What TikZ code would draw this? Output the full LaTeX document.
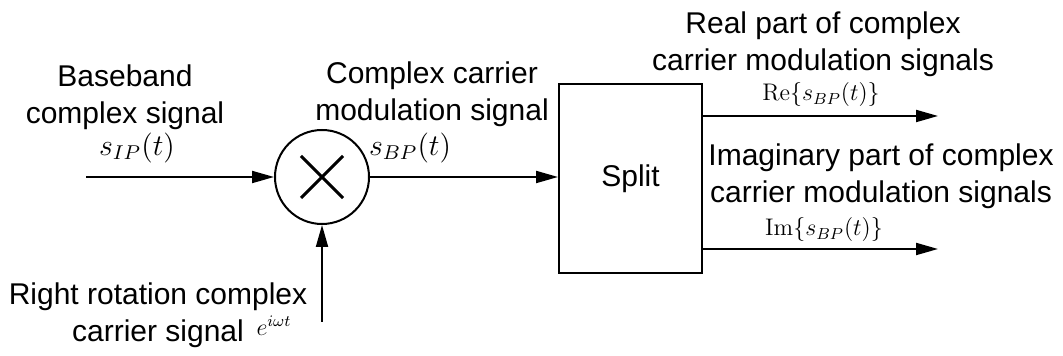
\documentclass[tikz,border=0pt]{standalone}
\usepackage{fix-cm}
\usepackage[no-math]{fontspec}
\setmainfont{Liberation Sans}
\usetikzlibrary{arrows.meta,positioning}

\begin{document}
\begin{tikzpicture}[
  x=0.5pt, y=-0.5pt,
  font=\fontsize{15}{18.5}\selectfont,
  mixer/.style={draw, circle, line width=1pt, minimum size=47pt, inner sep=0pt},
  splitbox/.style={draw, line width=1pt, minimum width=71.5pt, minimum height=94.5pt},
  lbl/.style={align=center, inner sep=0pt},
  mathlbl/.style={inner sep=0pt, font=\fontsize{12}{15}\selectfont, scale=1.25, transform shape},
  partlbl/.style={inner sep=0pt, font=\fontsize{12}{15}\selectfont},
  sig/.style={-{Triangle[length=11pt,width=6pt]}, line width=1pt}
]
\useasboundingbox (0,0) rectangle (1063,356);

\node[mixer] (mix) at (322,177) {};
\draw[line width=1.5pt] (mix.center) ++(-21,-21) -- ++(42,42);
\draw[line width=1.5pt] (mix.center) ++(21,-21) -- ++(-42,42);
\node[splitbox] (split) at (630.5,178.5) {Split};

\coordinate (in) at (86,177);
\coordinate (carrier) at (322,322);
\coordinate (reout) at (938,116);
\coordinate (imout) at (938,249);

% labels
\node[lbl] (bblabel) at (125,97) {Baseband\\complex signal};
\node[mathlbl] (sip) at (137,148) {$s_{IP}(t)$};
\node[lbl] (cmlabel) at (432,94) {Complex carrier\\modulation signal};
\node[mathlbl] (sbp) at (410,148) {$s_{BP}(t)$};
\node[lbl] (rrlabel) at (158,315) {Right rotation complex\\carrier signal};
\node[partlbl] (ewt) at (274,326) {$e^{i\omega t}$};
\node[lbl] (relabel) at (823,44) {Real part of complex\\carrier modulation signals};
\node[partlbl] (re) at (821,95) {$\mathrm{Re}\{s_{BP}(t)\}$};
\node[lbl] (imlabel) at (881,176) {Imaginary part of complex\\carrier modulation signals};
\node[partlbl] (im) at (824,230) {$\mathrm{Im}\{s_{BP}(t)\}$};

\draw[sig] (in) -- (mix);
\draw[sig] (carrier) -- (mix);
\draw[sig] (mix.east) -- (mix.east -| split.west);
\draw[sig] (split.east |- reout) -- (reout);
\draw[sig] (split.east |- imout) -- (imout);
\end{tikzpicture}
\end{document}
